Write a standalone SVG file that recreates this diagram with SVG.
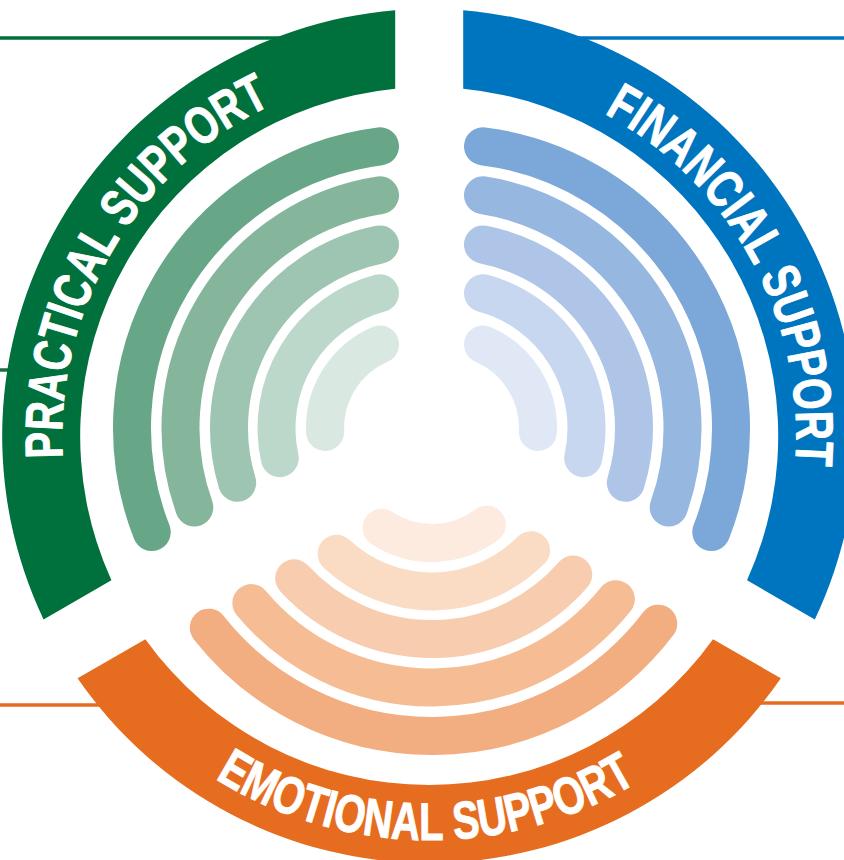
<svg xmlns="http://www.w3.org/2000/svg" width="844" height="860" viewBox="0 0 844 860">
<defs>
<style>
.lbl{font-family:"Liberation Sans",Arial,sans-serif;font-weight:bold;font-size:53px;fill:#ffffff;stroke:#ffffff;stroke-width:1;stroke-linejoin:round}
.arc{fill:none;stroke-width:38;stroke-linecap:round}
.band-g{fill:#00703c}.band-b{fill:#0075bf}.band-o{fill:#e66d1f}
.g1{stroke:#67a788}.g2{stroke:#85b69c}.g3{stroke:#9ec5b1}.g4{stroke:#bbd8ca}.g5{stroke:#d9e8e1}
.b1{stroke:#7ba8d8}.b2{stroke:#96b7e0}.b3{stroke:#aec5e7}.b4{stroke:#c6d7ef}.b5{stroke:#e1e8f5}
.o1{stroke:#f2ae80}.o2{stroke:#f6bd95}.o3{stroke:#f8cdaf}.o4{stroke:#fadcc5}.o5{stroke:#fcebde}
.ln{fill:none;stroke-width:3.5}
</style>
<path id="tp-g" d="M62.85,457.77 A367,367 0 0 1 334.21,81.5"/>
<path id="tp-b" d="M604.32,113.47 A367,367 0 0 1 774.07,561.52"/>
<path id="tp-o" d="M215.11,778.61 A404,404 0 0 0 714.87,721.67"/>
</defs>
<rect width="844" height="860" fill="#ffffff"/>
<g id="connectors">
<line class="ln" x1="0" y1="38" x2="330" y2="38" stroke="#00703c"/>
<line class="ln" x1="530" y1="38" x2="844" y2="38" stroke="#0075bf"/>
<line class="ln" x1="0" y1="370" x2="40" y2="370" stroke="#1d6b40"/>
<line class="ln" x1="0" y1="705" x2="150" y2="705" stroke="#e66d1f"/>
<line class="ln" x1="700" y1="703" x2="844" y2="703" stroke="#e66d1f"/>
</g>
<g id="practical-support">
<path class="band-g" d="M43.57,619.38 A427,427 0 0 1 395.2,10.36 L395.2,88.66 A349,349 0 0 0 111.38,580.23 Z"/>
<text class="lbl"><textPath href="#tp-g" textLength="435" lengthAdjust="spacingAndGlyphs">PRACTICAL SUPPORT</textPath></text>
<path class="arc g1" d="M151.75,532.07 A284,284 0 0 1 380,146.29"/>
<path class="arc g2" d="M194.32,507.49 A235.5,235.5 0 0 1 380,195.27"/>
<path class="arc g3" d="M237.19,482.74 A187,187 0 0 1 380,244.5"/>
<path class="arc g4" d="M279.79,458.14 A139.5,139.5 0 0 1 380,293.23"/>
<path class="arc g5" d="M325.09,431.99 A91,91 0 0 1 380,344.42"/>
</g>
<g id="financial-support">
<path class="band-b" d="M463.2,10.36 A427,427 0 0 1 814.83,619.38 L747.02,580.23 A349,349 0 0 0 463.2,88.66 Z"/>
<text class="lbl"><textPath href="#tp-b" textLength="423" lengthAdjust="spacingAndGlyphs">FINANCIAL SUPPORT</textPath></text>
<path class="arc b1" d="M483,146.29 A284,284 0 0 1 711.25,532.07"/>
<path class="arc b2" d="M483,195.27 A235.5,235.5 0 0 1 668.68,507.49"/>
<path class="arc b3" d="M483,244.5 A187,187 0 0 1 625.81,482.74"/>
<path class="arc b4" d="M483,293.23 A139.5,139.5 0 0 1 583.21,458.14"/>
<path class="arc b5" d="M483,344.42 A91,91 0 0 1 537.91,431.99"/>
</g>
<g id="emotional-support">
<path class="band-o" d="M780.83,678.28 A427,427 0 0 1 77.57,678.28 L145.38,639.13 A349,349 0 0 0 713.02,639.13 Z"/>
<text class="lbl"><textPath href="#tp-o" textLength="444" lengthAdjust="spacingAndGlyphs">EMOTIONAL SUPPORT</textPath></text>
<path class="arc o1" d="M658.27,623.63 A284,284 0 0 1 208.81,627.63"/>
<path class="arc o2" d="M615.87,599.15 A235.5,235.5 0 0 1 251.34,603.07"/>
<path class="arc o3" d="M573.25,574.54 A187,187 0 0 1 294.15,578.35"/>
<path class="arc o4" d="M531.08,550.2 A139.5,139.5 0 0 1 336.64,553.82"/>
<path class="arc o5" d="M486.81,524.64 A91,91 0 0 1 381.68,527.82"/>
</g>
</svg>
